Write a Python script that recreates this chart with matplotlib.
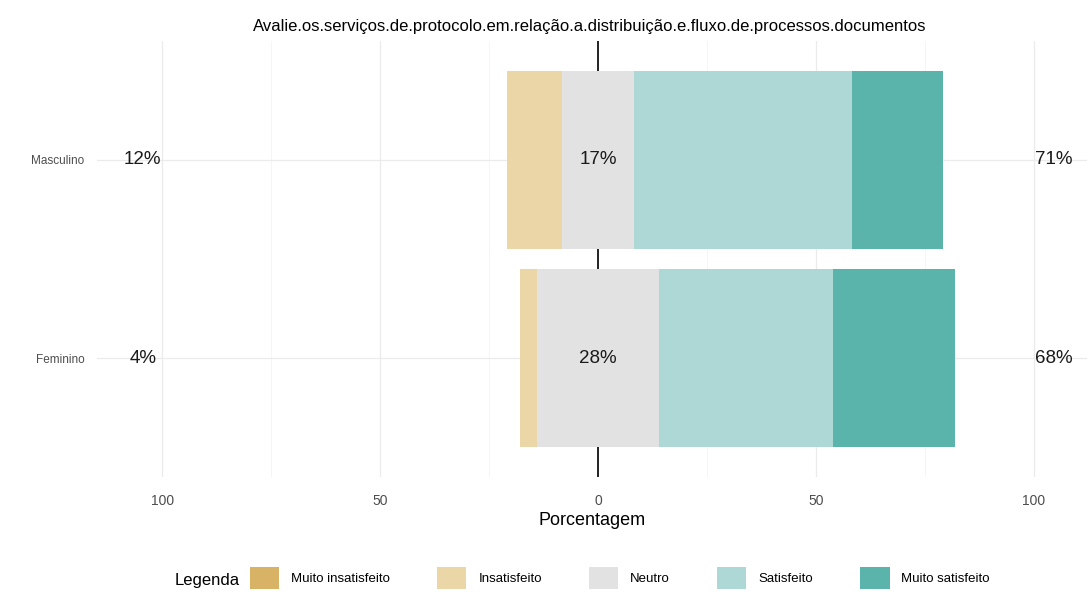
import matplotlib.pyplot as plt
from matplotlib.patches import Patch

plt.rcParams["font.family"] = ["Liberation Sans", "DejaVu Sans"]

# Data (percent of answers per group)
groups = ["Feminino", "Masculino"]
levels = ["Muito insatisfeito", "Insatisfeito", "Neutro", "Satisfeito", "Muito satisfeito"]
feminino = [0.0, 4.0, 28.0, 40.0, 28.0]
masculino = [0.0, 12.5, 16.7, 50.0, 20.8]
colors = ["#D8B365", "#EAD6A7", "#E2E2E2", "#ADD8D5", "#5AB4AB"]
title = "Avalie.os.serviços.de.protocolo.em.relação.a.distribuição.e.fluxo.de.processos.documentos"

data = [feminino, masculino]

fig = plt.figure(figsize=(10.87, 5.94), dpi=100)
W, H = 1087, 594
left_px, right_px, top_px, bottom_px = 97, 1087, 41, 477
ax = fig.add_axes([left_px / W, 1 - bottom_px / H,
                   (right_px - left_px) / W, (bottom_px - top_px) / H])

# grid
for x in [-100, -50, 50, 100]:
    ax.axvline(x, color="#EBEBEB", lw=0.9, zorder=0)
for x in [-75, -25, 25, 75]:
    ax.axvline(x, color="#F4F4F4", lw=0.6, zorder=0)
for y in range(len(groups)):
    ax.axhline(y + 1, color="#EBEBEB", lw=0.9, zorder=0)
ax.axvline(0, color="#222222", lw=1.4, zorder=1)

for i, vals in enumerate(data):
    y = i + 1
    mi, ins, neu, sat, msat = vals
    half = neu / 2
    ax.barh(y, neu, left=-half, height=0.9, color=colors[2], zorder=2)
    ax.barh(y, ins, left=-half - ins, height=0.9, color=colors[1], zorder=2)
    ax.barh(y, mi, left=-half - ins - mi, height=0.9, color=colors[0], zorder=2)
    ax.barh(y, sat, left=half, height=0.9, color=colors[3], zorder=2)
    ax.barh(y, msat, left=half + sat, height=0.9, color=colors[4], zorder=2)
    low = mi + ins
    high = sat + msat
    ax.text(-104.5, y, f"{round(low)}%", ha="center", va="center", fontsize=13.5, color="#1a1a1a")
    ax.text(0, y, f"{round(neu)}%", ha="center", va="center", fontsize=13.5, color="#1a1a1a", zorder=3)
    ax.text(104.5, y, f"{round(high)}%", ha="center", va="center", fontsize=13.5, color="#1a1a1a")

ax.set_xlim(-115, 112.2)
ax.set_ylim(0.4, 2.6)
ax.set_xticks([-100, -50, 0, 50, 100])
ax.set_xticklabels(["100", "50", "0", "50", "100"])
ax.set_yticks([1, 2])
ax.set_yticklabels(groups)
ax.tick_params(axis="both", length=0, labelcolor="#4D4D4D")
ax.tick_params(axis="x", pad=12, labelsize=10)
ax.tick_params(axis="y", pad=9, labelsize=8.5)
for s in ax.spines.values():
    s.set_visible(False)
ax.set_xlabel("Porcentagem", fontsize=13, labelpad=3)
fig.text(590 / W, 1 - 27 / H, title, ha="center", va="center", fontsize=12)

handles = [Patch(facecolor=c, edgecolor="none") for c in colors]
fig.legend(handles, levels, ncol=5, loc="center", bbox_to_anchor=(620 / W, 1 - 578 / H),
           frameon=False, fontsize=9.5, handlelength=2.2, handleheight=2.1,
           handletextpad=0.9, columnspacing=3.6)
fig.text(207 / W, 1 - 580 / H, "Legenda", ha="center", va="center", fontsize=12)

fig.savefig("out.png", dpi=100)
